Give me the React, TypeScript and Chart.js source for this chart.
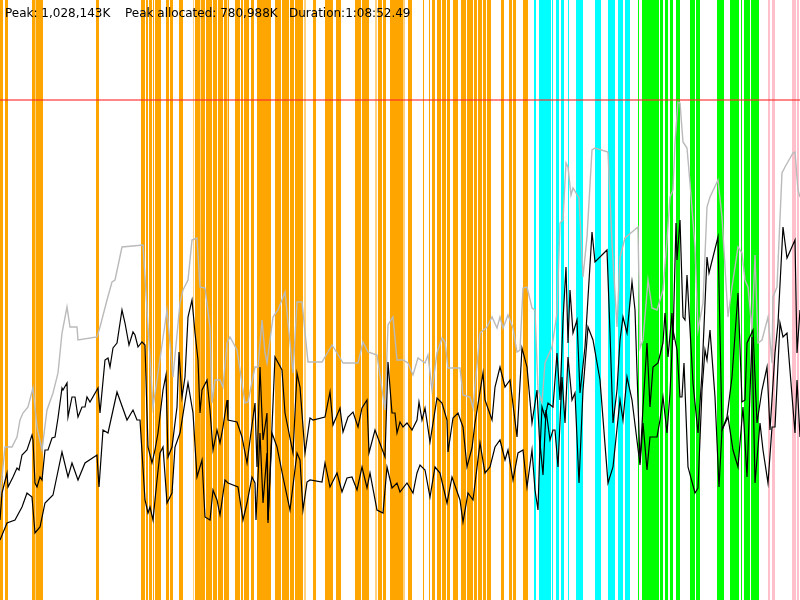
import React, { useEffect, useRef } from "react";
import { Chart, registerables } from "chart.js";

Chart.register(...registerables);

// Header texts
const headerTexts = ["Peak: 1,028,143K", "Peak allocated: 780,988K", "Duration:1:08:52.49"];

// Time axis range (time units) and memory axis range
const timeMax = 800;
const memMax = 600;
const peakLevel = 500;

// Event bands [start, end] on the time axis
const orangeBands = [
  [0, 3], [5, 8], [32, 35], [36, 43], [96, 99],
  [141, 145], [146, 148], [149, 152], [153, 154], [155, 161], [166, 169], [170, 173], [179, 183],
  [195, 200], [201, 205], [206, 212], [213, 217], [218, 223], [224, 227], [228, 229],
  [235, 240], [241, 243], [244, 249], [251, 254], [257, 268],
  [266, 271], [275, 281], [282, 289], [290, 294], [295, 303], [313, 316], [325, 333], [336, 341],
  [355, 358], [358, 361], [362, 369], [378, 382], [383, 386], [390, 399],
  [399, 403], [408, 412], [423, 424], [429, 430], [432, 435], [437, 441], [442, 446], [447, 450],
  [453, 458], [461, 466], [467, 473], [474, 477], [478, 482], [483, 486], [487, 491],
  [501, 504], [509, 512], [513, 516], [523, 528],
];
const lightOrangeBands = [[35, 36], [193, 194], [304, 306], [375, 377], [403, 405], [527, 528]];
const cyanBands = [
  [534, 536], [539, 551], [552, 553], [556, 559], [561, 564], [568, 569], [576, 583],
  [595, 601], [608, 615], [618, 623], [625, 630],
];
const greenBands = [
  [638, 639], [642, 654], [654, 657], [657, 659], [660, 663], [665, 668], [670, 673], [676, 680],
  [690, 695], [696, 700], [717, 724], [730, 735], [735, 739], [741, 742], [744, 750], [751, 759],
];
const pinkBands = [[768, 770], [772, 775], [792, 796], [797, 799]];

// Gray series (peak)
const grayT = [0, 5, 12, 17, 20, 23, 28, 33, 37, 42, 47, 53, 58, 62, 67, 70, 77, 78, 97, 100, 107, 112, 115, 122, 143, 153, 158, 167, 173, 180, 183, 188, 192, 197, 200, 205, 210, 212, 215, 220, 223, 227, 230, 237, 245, 248, 255, 258, 262, 265, 267, 273, 278, 285, 293, 297, 302, 308, 322, 332, 337, 343, 358, 363, 368, 377, 385, 388, 393, 397, 403, 408, 413, 418, 425, 428, 432, 437, 442, 445, 448, 460, 463, 470, 473, 480, 487, 492, 497, 500, 503, 508, 513, 517, 520, 523, 527, 532, 535, 538, 542, 545, 552, 557, 560, 563, 566, 568, 571, 573, 579, 583, 587, 592, 595, 608, 612, 617, 620, 625, 638, 640, 643, 648, 652, 657, 663, 667, 670, 673, 675, 678, 680, 683, 687, 690, 695, 698, 703, 707, 710, 718, 722, 725, 728, 732, 738, 742, 745, 748, 752, 755, 758, 762, 768, 772, 773, 777, 782, 785, 793, 795, 798, 800];
const grayV = [103, 153, 153, 163, 180, 187, 193, 212, 173, 150, 190, 207, 227, 267, 293, 273, 273, 260, 263, 273, 300, 318, 320, 353, 355, 193, 227, 290, 223, 297, 310, 320, 360, 362, 313, 312, 273, 197, 220, 220, 213, 257, 263, 250, 197, 198, 233, 233, 280, 247, 237, 283, 290, 308, 227, 298, 298, 238, 238, 255, 247, 237, 237, 258, 248, 245, 190, 275, 283, 240, 240, 237, 225, 242, 237, 245, 210, 247, 262, 258, 232, 232, 205, 203, 192, 267, 273, 283, 272, 283, 272, 285, 272, 248, 250, 312, 313, 292, 290, 210, 197, 237, 253, 287, 377, 380, 437, 433, 405, 412, 402, 323, 363, 450, 452, 448, 357, 273, 343, 362, 373, 252, 260, 320, 292, 290, 310, 360, 403, 410, 457, 498, 497, 458, 452, 417, 353, 270, 297, 393, 403, 420, 383, 333, 283, 313, 353, 347, 320, 313, 270, 345, 257, 260, 283, 237, 303, 313, 427, 433, 447, 448, 410, 403];

// Upper black series (allocated)
const allocT = [0, 2, 7, 8, 13, 17, 19, 22, 27, 32, 33, 35, 37, 40, 42, 45, 48, 52, 55, 58, 62, 63, 67, 68, 72, 75, 78, 82, 85, 87, 90, 98, 100, 105, 108, 110, 113, 117, 122, 125, 129, 133, 135, 138, 142, 145, 148, 152, 155, 158, 163, 166, 168, 172, 177, 179, 182, 185, 188, 192, 195, 198, 200, 202, 207, 210, 213, 217, 220, 223, 227, 228, 237, 242, 247, 250, 255, 257, 260, 263, 267, 268, 272, 275, 282, 285, 293, 297, 300, 305, 310, 313, 325, 330, 333, 340, 343, 348, 353, 358, 362, 367, 369, 375, 385, 388, 392, 395, 397, 400, 403, 407, 412, 417, 419, 422, 425, 430, 437, 442, 447, 448, 453, 458, 463, 467, 472, 475, 483, 485, 492, 495, 500, 505, 510, 517, 522, 527, 532, 537, 540, 542, 545, 548, 553, 557, 560, 563, 566, 568, 570, 573, 577, 580, 585, 592, 595, 607, 610, 613, 617, 620, 623, 627, 632, 635, 640, 643, 647, 650, 653, 658, 663, 665, 668, 672, 673, 676, 677, 680, 683, 685, 687, 693, 698, 702, 707, 709, 718, 722, 727, 732, 738, 742, 745, 747, 753, 757, 762, 767, 770, 775, 778, 783, 787, 795, 797, 800];
const allocV = [80, 107, 127, 113, 123, 132, 130, 145, 150, 165, 160, 117, 113, 123, 120, 150, 150, 162, 163, 182, 212, 210, 217, 183, 203, 203, 183, 193, 193, 203, 198, 212, 187, 240, 242, 233, 252, 257, 290, 277, 255, 268, 265, 253, 258, 255, 153, 137, 150, 167, 210, 225, 143, 153, 193, 248, 203, 223, 283, 300, 267, 240, 187, 210, 220, 190, 150, 170, 157, 173, 200, 180, 178, 163, 137, 160, 197, 133, 233, 160, 187, 80, 173, 243, 230, 187, 147, 227, 213, 147, 182, 180, 183, 208, 175, 192, 168, 183, 188, 173, 192, 200, 147, 170, 143, 238, 187, 187, 167, 178, 173, 177, 170, 180, 198, 180, 192, 158, 202, 197, 180, 148, 182, 187, 173, 133, 152, 177, 227, 200, 180, 213, 233, 213, 220, 163, 252, 233, 177, 210, 150, 193, 183, 197, 193, 247, 200, 280, 333, 257, 310, 267, 280, 207, 253, 368, 338, 350, 267, 177, 210, 260, 283, 267, 318, 290, 137, 193, 257, 193, 233, 237, 257, 287, 243, 287, 260, 377, 340, 380, 283, 280, 325, 217, 167, 227, 343, 327, 363, 170, 183, 223, 307, 198, 200, 257, 270, 177, 210, 233, 170, 247, 277, 373, 342, 360, 247, 290];

// Lower black series (in use)
const usedT = [0, 7, 15, 22, 27, 32, 35, 40, 45, 53, 62, 68, 72, 78, 85, 97, 99, 103, 108, 117, 127, 133, 137, 140, 145, 148, 150, 153, 157, 160, 163, 167, 172, 175, 180, 188, 193, 197, 202, 205, 210, 213, 217, 220, 225, 228, 238, 243, 247, 252, 255, 256, 260, 263, 267, 268, 272, 277, 283, 290, 297, 300, 303, 307, 310, 322, 325, 330, 337, 342, 347, 352, 357, 362, 367, 370, 377, 383, 387, 392, 397, 400, 407, 413, 417, 420, 425, 430, 435, 440, 447, 452, 460, 463, 468, 473, 480, 485, 490, 495, 500, 505, 508, 513, 518, 523, 527, 532, 535, 538, 540, 543, 546, 550, 553, 555, 558, 562, 565, 568, 572, 575, 579, 583, 588, 593, 600, 608, 613, 620, 623, 627, 632, 640, 643, 647, 650, 657, 660, 663, 667, 670, 673, 677, 680, 682, 684, 688, 695, 698, 702, 705, 707, 710, 715, 719, 722, 728, 733, 738, 743, 747, 752, 755, 760, 763, 768, 772, 775, 780, 783, 787, 795, 797, 800];
const usedV = [60, 77, 80, 93, 107, 103, 67, 73, 97, 105, 148, 123, 137, 120, 137, 145, 113, 170, 167, 208, 180, 190, 180, 180, 100, 87, 93, 80, 120, 147, 153, 97, 107, 153, 167, 217, 187, 123, 140, 83, 80, 110, 100, 85, 120, 117, 113, 80, 97, 123, 117, 80, 167, 97, 147, 77, 167, 153, 123, 90, 147, 140, 90, 118, 120, 118, 137, 113, 127, 108, 122, 123, 110, 133, 112, 127, 90, 87, 133, 112, 117, 108, 117, 107, 127, 135, 130, 103, 133, 127, 97, 123, 100, 78, 107, 100, 157, 127, 133, 153, 160, 140, 150, 120, 147, 150, 113, 150, 110, 90, 157, 125, 190, 160, 170, 170, 133, 223, 177, 243, 200, 207, 117, 210, 273, 260, 220, 117, 133, 200, 180, 223, 200, 135, 177, 130, 163, 163, 180, 203, 167, 207, 270, 250, 203, 203, 237, 133, 107, 112, 210, 250, 240, 270, 203, 113, 170, 183, 150, 133, 193, 123, 263, 117, 177, 150, 117, 173, 173, 277, 263, 267, 167, 220, 163];

function bandPoints(bands: number[][]) {
  const pts: { x: number; y: number }[] = [];
  for (const [s, e] of bands) {
    pts.push({ x: s, y: 0 }, { x: s, y: memMax }, { x: e, y: memMax }, { x: e, y: 0 });
  }
  return pts;
}

function series(t: number[], v: number[]) {
  return t.map((x, i) => ({ x, y: v[i] }));
}

function bandDataset(label: string, bands: number[][], color: string) {
  return {
    label,
    data: bandPoints(bands),
    fill: "origin",
    backgroundColor: color,
    borderColor: "transparent",
    borderWidth: 0,
    pointRadius: 0,
    tension: 0,
    order: 10,
  };
}

const headerPlugin = {
  id: "header",
  afterDraw(chart: any) {
    const ctx = chart.ctx;
    ctx.save();
    ctx.font = '12px "DejaVu Sans", sans-serif';
    ctx.fillStyle = "#000";
    ctx.textBaseline = "alphabetic";
    const xs = [5, 125, 289];
    headerTexts.forEach((t, i) => ctx.fillText(t, xs[i], 17));
    ctx.restore();
  },
};

export default function App() {
  const ref = useRef<HTMLCanvasElement | null>(null);
  useEffect(() => {
    document.body.style.margin = "0";
    if (!ref.current) return;
    const chart = new Chart(ref.current, {
      type: "line",
      data: {
        datasets: [
          bandDataset("orange", orangeBands, "#FFA500"),
          bandDataset("lightOrange", lightOrangeBands, "rgba(255,165,0,0.5)"),
          bandDataset("cyan", cyanBands, "#00FFFF"),
          bandDataset("green", greenBands, "#00FF00"),
          bandDataset("pink", pinkBands, "#FFC0CB"),
          {
            label: "peakLine",
            data: [{ x: 0, y: peakLevel }, { x: timeMax, y: peakLevel }],
            borderColor: "rgba(255,40,40,0.75)",
            borderWidth: 1.5,
            pointRadius: 0,
            fill: false,
            order: 5,
          },
          {
            label: "peak",
            data: series(grayT, grayV),
            borderColor: "#bababa",
            borderWidth: 1.4,
            pointRadius: 0,
            fill: false,
            tension: 0,
            order: 3,
          },
          {
            label: "allocated",
            data: series(allocT, allocV),
            borderColor: "#000",
            borderWidth: 1.2,
            pointRadius: 0,
            fill: false,
            tension: 0,
            order: 1,
          },
          {
            label: "used",
            data: series(usedT, usedV),
            borderColor: "#000",
            borderWidth: 1.2,
            pointRadius: 0,
            fill: false,
            tension: 0,
            order: 1,
          },
        ] as any,
      },
      options: {
        responsive: false,
        maintainAspectRatio: false,
        animation: false,
        layout: { padding: 0 },
        plugins: { legend: { display: false }, tooltip: { enabled: false }, title: { display: false } },
        scales: {
          x: { type: "linear", min: 0, max: timeMax, display: false },
          y: { type: "linear", min: 0, max: memMax, display: false },
        },
        elements: { point: { radius: 0 } },
      },
      plugins: [headerPlugin],
    });
    return () => chart.destroy();
  }, []);
  return (
    <div style={{ width: 800, height: 600 }}>
      <canvas ref={ref} width={800} height={600} style={{ display: "block", width: 800, height: 600 }} />
    </div>
  );
}
